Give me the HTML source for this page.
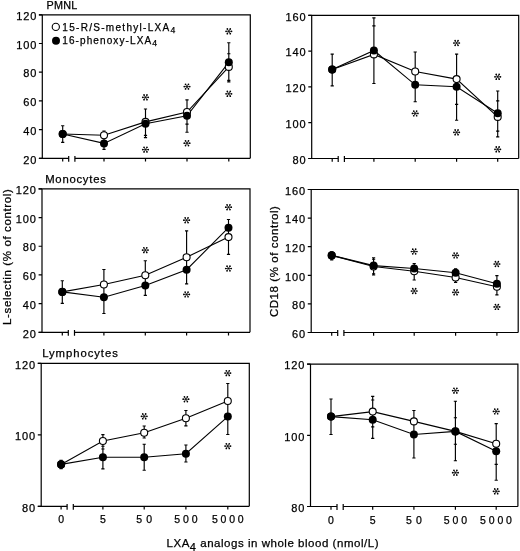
<!DOCTYPE html><html><head><meta charset="utf-8"><style>html,body{margin:0;padding:0;background:#fff;}svg{display:block;will-change:transform;}text{stroke:#000;stroke-width:0.25px;}</style></head><body>
<svg width="520" height="551" viewBox="0 0 520 551" font-family='"Liberation Sans", sans-serif' fill="#000">
<rect width="520" height="551" fill="#fff"/>
<path d="M38.9,14.8H250.3V158.3M42.3,14.8V158.3" fill="none" stroke="#000" stroke-width="1.2"/>
<path d="M38.9,158.3H68.7M74.9,158.3H250.3" fill="none" stroke="#000" stroke-width="1.2"/>
<path d="M68.7,155.9V161.70000000000002M74.9,155.9V161.70000000000002" fill="none" stroke="#000" stroke-width="1.2"/>
<path d="M62.7,158.3V161.5M104.0,158.3V161.5M145.5,158.3V161.5M187.0,158.3V161.5M228.8,158.3V161.5" stroke="#000" stroke-width="1.2"/>
<text x="37.20" y="163.50" text-anchor="end" font-size="11" letter-spacing="0.9">20</text>
<text x="37.20" y="134.80" text-anchor="end" font-size="11" letter-spacing="0.9">40</text>
<text x="37.20" y="106.10" text-anchor="end" font-size="11" letter-spacing="0.9">60</text>
<text x="37.20" y="77.40" text-anchor="end" font-size="11" letter-spacing="0.9">80</text>
<text x="37.20" y="48.70" text-anchor="end" font-size="11" letter-spacing="0.9">100</text>
<text x="37.20" y="20.00" text-anchor="end" font-size="11" letter-spacing="0.9">120</text>
<path d="M38.9,158.30H42.3M38.9,129.60H42.3M38.9,100.90H42.3M38.9,72.20H42.3M38.9,43.50H42.3M38.9,14.80H42.3" stroke="#000" stroke-width="1.2"/>
<polyline points="62.7,134.0 104.0,135.2 145.5,121.9 187.0,112.0 228.8,66.9" fill="none" stroke="#000" stroke-width="1.1"/>
<polyline points="62.7,134.0 104.0,143.4 145.5,123.8 187.0,115.8 228.8,62.3" fill="none" stroke="#000" stroke-width="1.1"/>
<path d="M62.7,125.7V142.3M61.1,125.7H64.3M61.1,142.3H64.3M104.0,131V149.3M102.4,131H105.6M102.4,149.3H105.6M145.5,109V137.6M143.9,109H147.1M143.9,137.6H147.1M143.9,135.4H147.1M187.0,99.9V132.2M185.4,99.9H188.6M185.4,132.2H188.6M185.4,124.1H188.6M228.8,42.7V81.9M227.20000000000002,42.7H230.4M227.20000000000002,81.9H230.4M227.20000000000002,53.7H230.4M227.20000000000002,80.3H230.4" stroke="#000" stroke-width="1.15"/>
<circle cx="62.7" cy="134.0" r="3.5" fill="#fff" stroke="#000" stroke-width="1.1"/>
<circle cx="104.0" cy="135.2" r="3.5" fill="#fff" stroke="#000" stroke-width="1.1"/>
<circle cx="145.5" cy="121.9" r="3.5" fill="#fff" stroke="#000" stroke-width="1.1"/>
<circle cx="187.0" cy="112.0" r="3.5" fill="#fff" stroke="#000" stroke-width="1.1"/>
<circle cx="228.8" cy="66.9" r="3.5" fill="#fff" stroke="#000" stroke-width="1.1"/>
<circle cx="62.7" cy="134.0" r="4.0" fill="#000"/>
<circle cx="104.0" cy="143.4" r="4.0" fill="#000"/>
<circle cx="145.5" cy="123.8" r="4.0" fill="#000"/>
<circle cx="187.0" cy="115.8" r="4.0" fill="#000"/>
<circle cx="228.8" cy="62.3" r="4.0" fill="#000"/>
<path d="M142.75,97.30L148.25,97.30M144.04,94.97L146.96,99.63M146.96,94.97L144.04,99.63" stroke="#000" stroke-width="0.75"/><circle cx="142.75" cy="97.30" r="0.85"/><circle cx="148.25" cy="97.30" r="0.85"/><circle cx="144.04" cy="94.97" r="0.85"/><circle cx="146.96" cy="99.63" r="0.85"/><circle cx="146.96" cy="94.97" r="0.85"/><circle cx="144.04" cy="99.63" r="0.85"/>
<path d="M142.75,149.60L148.25,149.60M144.04,147.27L146.96,151.93M146.96,147.27L144.04,151.93" stroke="#000" stroke-width="0.75"/><circle cx="142.75" cy="149.60" r="0.85"/><circle cx="148.25" cy="149.60" r="0.85"/><circle cx="144.04" cy="147.27" r="0.85"/><circle cx="146.96" cy="151.93" r="0.85"/><circle cx="146.96" cy="147.27" r="0.85"/><circle cx="144.04" cy="151.93" r="0.85"/>
<path d="M184.25,86.60L189.75,86.60M185.54,84.27L188.46,88.93M188.46,84.27L185.54,88.93" stroke="#000" stroke-width="0.75"/><circle cx="184.25" cy="86.60" r="0.85"/><circle cx="189.75" cy="86.60" r="0.85"/><circle cx="185.54" cy="84.27" r="0.85"/><circle cx="188.46" cy="88.93" r="0.85"/><circle cx="188.46" cy="84.27" r="0.85"/><circle cx="185.54" cy="88.93" r="0.85"/>
<path d="M184.25,143.20L189.75,143.20M185.54,140.87L188.46,145.53M188.46,140.87L185.54,145.53" stroke="#000" stroke-width="0.75"/><circle cx="184.25" cy="143.20" r="0.85"/><circle cx="189.75" cy="143.20" r="0.85"/><circle cx="185.54" cy="140.87" r="0.85"/><circle cx="188.46" cy="145.53" r="0.85"/><circle cx="188.46" cy="140.87" r="0.85"/><circle cx="185.54" cy="145.53" r="0.85"/>
<path d="M226.05,31.30L231.55,31.30M227.34,28.97L230.26,33.63M230.26,28.97L227.34,33.63" stroke="#000" stroke-width="0.75"/><circle cx="226.05" cy="31.30" r="0.85"/><circle cx="231.55" cy="31.30" r="0.85"/><circle cx="227.34" cy="28.97" r="0.85"/><circle cx="230.26" cy="33.63" r="0.85"/><circle cx="230.26" cy="28.97" r="0.85"/><circle cx="227.34" cy="33.63" r="0.85"/>
<path d="M226.05,93.80L231.55,93.80M227.34,91.47L230.26,96.13M230.26,91.47L227.34,96.13" stroke="#000" stroke-width="0.75"/><circle cx="226.05" cy="93.80" r="0.85"/><circle cx="231.55" cy="93.80" r="0.85"/><circle cx="227.34" cy="91.47" r="0.85"/><circle cx="230.26" cy="96.13" r="0.85"/><circle cx="230.26" cy="91.47" r="0.85"/><circle cx="227.34" cy="96.13" r="0.85"/>
<path d="M308.3,15.4H518.7V158.5M311.7,15.4V158.5" fill="none" stroke="#000" stroke-width="1.2"/>
<path d="M308.3,158.5H338.2M344.4,158.5H518.7" fill="none" stroke="#000" stroke-width="1.2"/>
<path d="M338.2,156.1V161.9M344.4,156.1V161.9" fill="none" stroke="#000" stroke-width="1.2"/>
<path d="M332.2,158.5V161.7M373.9,158.5V161.7M415.2,158.5V161.7M456.6,158.5V161.7M497.7,158.5V161.7" stroke="#000" stroke-width="1.2"/>
<text x="306.60" y="163.70" text-anchor="end" font-size="11" letter-spacing="0.9">80</text>
<text x="306.60" y="127.92" text-anchor="end" font-size="11" letter-spacing="0.9">100</text>
<text x="306.60" y="92.15" text-anchor="end" font-size="11" letter-spacing="0.9">120</text>
<text x="306.60" y="56.38" text-anchor="end" font-size="11" letter-spacing="0.9">140</text>
<text x="306.60" y="20.60" text-anchor="end" font-size="11" letter-spacing="0.9">160</text>
<path d="M308.3,158.50H311.7M308.3,122.72H311.7M308.3,86.95H311.7M308.3,51.17H311.7M308.3,15.40H311.7" stroke="#000" stroke-width="1.2"/>
<polyline points="332.2,69.6 373.9,54.4 415.2,71.5 456.6,79.1 497.7,116.9" fill="none" stroke="#000" stroke-width="1.1"/>
<polyline points="332.2,69.6 373.9,50.5 415.2,84.8 456.6,86.7 497.7,113.2" fill="none" stroke="#000" stroke-width="1.1"/>
<path d="M332.2,54.1V85.9M330.59999999999997,54.1H333.8M330.59999999999997,85.9H333.8M373.9,17.8V83.5M372.29999999999995,17.8H375.5M372.29999999999995,83.5H375.5M372.29999999999995,25.8H375.5M415.2,52V101.7M413.59999999999997,52H416.8M413.59999999999997,101.7H416.8M456.6,54.1V120.2M455.0,54.1H458.20000000000005M455.0,120.2H458.20000000000005M455.0,104.4H458.20000000000005M497.7,91V136.8M496.09999999999997,91H499.3M496.09999999999997,136.8H499.3M496.09999999999997,100.9H499.3M496.09999999999997,131.1H499.3" stroke="#000" stroke-width="1.15"/>
<circle cx="332.2" cy="69.6" r="3.5" fill="#fff" stroke="#000" stroke-width="1.1"/>
<circle cx="373.9" cy="54.4" r="3.5" fill="#fff" stroke="#000" stroke-width="1.1"/>
<circle cx="415.2" cy="71.5" r="3.5" fill="#fff" stroke="#000" stroke-width="1.1"/>
<circle cx="456.6" cy="79.1" r="3.5" fill="#fff" stroke="#000" stroke-width="1.1"/>
<circle cx="497.7" cy="116.9" r="3.5" fill="#fff" stroke="#000" stroke-width="1.1"/>
<circle cx="332.2" cy="69.6" r="4.0" fill="#000"/>
<circle cx="373.9" cy="50.5" r="4.0" fill="#000"/>
<circle cx="415.2" cy="84.8" r="4.0" fill="#000"/>
<circle cx="456.6" cy="86.7" r="4.0" fill="#000"/>
<circle cx="497.7" cy="113.2" r="4.0" fill="#000"/>
<path d="M412.45,113.40L417.95,113.40M413.74,111.07L416.66,115.73M416.66,111.07L413.74,115.73" stroke="#000" stroke-width="0.75"/><circle cx="412.45" cy="113.40" r="0.85"/><circle cx="417.95" cy="113.40" r="0.85"/><circle cx="413.74" cy="111.07" r="0.85"/><circle cx="416.66" cy="115.73" r="0.85"/><circle cx="416.66" cy="111.07" r="0.85"/><circle cx="413.74" cy="115.73" r="0.85"/>
<path d="M453.85,43.00L459.35,43.00M455.14,40.67L458.06,45.33M458.06,40.67L455.14,45.33" stroke="#000" stroke-width="0.75"/><circle cx="453.85" cy="43.00" r="0.85"/><circle cx="459.35" cy="43.00" r="0.85"/><circle cx="455.14" cy="40.67" r="0.85"/><circle cx="458.06" cy="45.33" r="0.85"/><circle cx="458.06" cy="40.67" r="0.85"/><circle cx="455.14" cy="45.33" r="0.85"/>
<path d="M453.85,132.30L459.35,132.30M455.14,129.97L458.06,134.63M458.06,129.97L455.14,134.63" stroke="#000" stroke-width="0.75"/><circle cx="453.85" cy="132.30" r="0.85"/><circle cx="459.35" cy="132.30" r="0.85"/><circle cx="455.14" cy="129.97" r="0.85"/><circle cx="458.06" cy="134.63" r="0.85"/><circle cx="458.06" cy="129.97" r="0.85"/><circle cx="455.14" cy="134.63" r="0.85"/>
<path d="M494.95,76.80L500.45,76.80M496.24,74.47L499.16,79.13M499.16,74.47L496.24,79.13" stroke="#000" stroke-width="0.75"/><circle cx="494.95" cy="76.80" r="0.85"/><circle cx="500.45" cy="76.80" r="0.85"/><circle cx="496.24" cy="74.47" r="0.85"/><circle cx="499.16" cy="79.13" r="0.85"/><circle cx="499.16" cy="74.47" r="0.85"/><circle cx="496.24" cy="79.13" r="0.85"/>
<path d="M494.95,149.30L500.45,149.30M496.24,146.97L499.16,151.63M499.16,146.97L496.24,151.63" stroke="#000" stroke-width="0.75"/><circle cx="494.95" cy="149.30" r="0.85"/><circle cx="500.45" cy="149.30" r="0.85"/><circle cx="496.24" cy="146.97" r="0.85"/><circle cx="499.16" cy="151.63" r="0.85"/><circle cx="499.16" cy="146.97" r="0.85"/><circle cx="496.24" cy="151.63" r="0.85"/>
<path d="M38.6,188.9H250.0V332.3M42.0,188.9V332.3" fill="none" stroke="#000" stroke-width="1.2"/>
<path d="M38.6,332.3H68.3M74.5,332.3H250.0" fill="none" stroke="#000" stroke-width="1.2"/>
<path d="M68.3,329.90000000000003V335.7M74.5,329.90000000000003V335.7" fill="none" stroke="#000" stroke-width="1.2"/>
<path d="M62.3,332.3V335.5M103.9,332.3V335.5M145.3,332.3V335.5M186.6,332.3V335.5M228.5,332.3V335.5" stroke="#000" stroke-width="1.2"/>
<text x="36.90" y="337.50" text-anchor="end" font-size="11" letter-spacing="0.9">20</text>
<text x="36.90" y="308.82" text-anchor="end" font-size="11" letter-spacing="0.9">40</text>
<text x="36.90" y="280.14" text-anchor="end" font-size="11" letter-spacing="0.9">60</text>
<text x="36.90" y="251.46" text-anchor="end" font-size="11" letter-spacing="0.9">80</text>
<text x="36.90" y="222.78" text-anchor="end" font-size="11" letter-spacing="0.9">100</text>
<text x="36.90" y="194.10" text-anchor="end" font-size="11" letter-spacing="0.9">120</text>
<path d="M38.6,332.30H42.0M38.6,303.62H42.0M38.6,274.94H42.0M38.6,246.26H42.0M38.6,217.58H42.0M38.6,188.90H42.0" stroke="#000" stroke-width="1.2"/>
<polyline points="62.3,291.9 103.9,284.5 145.3,275.2 186.6,257.2 228.5,237.1" fill="none" stroke="#000" stroke-width="1.1"/>
<polyline points="62.3,291.9 103.9,297.2 145.3,285.5 186.6,269.7 228.5,227.7" fill="none" stroke="#000" stroke-width="1.1"/>
<path d="M62.3,280.7V303.3M60.699999999999996,280.7H63.9M60.699999999999996,303.3H63.9M103.9,269.5V313.5M102.30000000000001,269.5H105.5M102.30000000000001,313.5H105.5M145.3,260.7V295.3M143.70000000000002,260.7H146.9M143.70000000000002,295.3H146.9M186.6,230.8V283.8M185.0,230.8H188.2M185.0,283.8H188.2M228.5,219.5V254.4M226.9,219.5H230.1M226.9,254.4H230.1" stroke="#000" stroke-width="1.15"/>
<circle cx="62.3" cy="291.9" r="3.5" fill="#fff" stroke="#000" stroke-width="1.1"/>
<circle cx="103.9" cy="284.5" r="3.5" fill="#fff" stroke="#000" stroke-width="1.1"/>
<circle cx="145.3" cy="275.2" r="3.5" fill="#fff" stroke="#000" stroke-width="1.1"/>
<circle cx="186.6" cy="257.2" r="3.5" fill="#fff" stroke="#000" stroke-width="1.1"/>
<circle cx="228.5" cy="237.1" r="3.5" fill="#fff" stroke="#000" stroke-width="1.1"/>
<circle cx="62.3" cy="291.9" r="4.0" fill="#000"/>
<circle cx="103.9" cy="297.2" r="4.0" fill="#000"/>
<circle cx="145.3" cy="285.5" r="4.0" fill="#000"/>
<circle cx="186.6" cy="269.7" r="4.0" fill="#000"/>
<circle cx="228.5" cy="227.7" r="4.0" fill="#000"/>
<path d="M142.55,250.10L148.05,250.10M143.84,247.77L146.76,252.43M146.76,247.77L143.84,252.43" stroke="#000" stroke-width="0.75"/><circle cx="142.55" cy="250.10" r="0.85"/><circle cx="148.05" cy="250.10" r="0.85"/><circle cx="143.84" cy="247.77" r="0.85"/><circle cx="146.76" cy="252.43" r="0.85"/><circle cx="146.76" cy="247.77" r="0.85"/><circle cx="143.84" cy="252.43" r="0.85"/>
<path d="M183.85,220.20L189.35,220.20M185.14,217.87L188.06,222.53M188.06,217.87L185.14,222.53" stroke="#000" stroke-width="0.75"/><circle cx="183.85" cy="220.20" r="0.85"/><circle cx="189.35" cy="220.20" r="0.85"/><circle cx="185.14" cy="217.87" r="0.85"/><circle cx="188.06" cy="222.53" r="0.85"/><circle cx="188.06" cy="217.87" r="0.85"/><circle cx="185.14" cy="222.53" r="0.85"/>
<path d="M183.85,294.40L189.35,294.40M185.14,292.07L188.06,296.73M188.06,292.07L185.14,296.73" stroke="#000" stroke-width="0.75"/><circle cx="183.85" cy="294.40" r="0.85"/><circle cx="189.35" cy="294.40" r="0.85"/><circle cx="185.14" cy="292.07" r="0.85"/><circle cx="188.06" cy="296.73" r="0.85"/><circle cx="188.06" cy="292.07" r="0.85"/><circle cx="185.14" cy="296.73" r="0.85"/>
<path d="M225.75,207.20L231.25,207.20M227.04,204.87L229.96,209.53M229.96,204.87L227.04,209.53" stroke="#000" stroke-width="0.75"/><circle cx="225.75" cy="207.20" r="0.85"/><circle cx="231.25" cy="207.20" r="0.85"/><circle cx="227.04" cy="204.87" r="0.85"/><circle cx="229.96" cy="209.53" r="0.85"/><circle cx="229.96" cy="204.87" r="0.85"/><circle cx="227.04" cy="209.53" r="0.85"/>
<path d="M225.75,268.50L231.25,268.50M227.04,266.17L229.96,270.83M229.96,266.17L227.04,270.83" stroke="#000" stroke-width="0.75"/><circle cx="225.75" cy="268.50" r="0.85"/><circle cx="231.25" cy="268.50" r="0.85"/><circle cx="227.04" cy="266.17" r="0.85"/><circle cx="229.96" cy="270.83" r="0.85"/><circle cx="229.96" cy="266.17" r="0.85"/><circle cx="227.04" cy="270.83" r="0.85"/>
<path d="M307.8,189.5H518.2V332.5M311.2,189.5V332.5" fill="none" stroke="#000" stroke-width="1.2"/>
<path d="M307.8,332.5H337.7M343.9,332.5H518.2" fill="none" stroke="#000" stroke-width="1.2"/>
<path d="M337.7,330.1V335.9M343.9,330.1V335.9" fill="none" stroke="#000" stroke-width="1.2"/>
<path d="M331.7,332.5V335.7M373.6,332.5V335.7M414.2,332.5V335.7M455.6,332.5V335.7M496.9,332.5V335.7" stroke="#000" stroke-width="1.2"/>
<text x="306.10" y="337.70" text-anchor="end" font-size="11" letter-spacing="0.9">60</text>
<text x="306.10" y="309.10" text-anchor="end" font-size="11" letter-spacing="0.9">80</text>
<text x="306.10" y="280.50" text-anchor="end" font-size="11" letter-spacing="0.9">100</text>
<text x="306.10" y="251.90" text-anchor="end" font-size="11" letter-spacing="0.9">120</text>
<text x="306.10" y="223.30" text-anchor="end" font-size="11" letter-spacing="0.9">140</text>
<text x="306.10" y="194.70" text-anchor="end" font-size="11" letter-spacing="0.9">160</text>
<path d="M307.8,332.50H311.2M307.8,303.90H311.2M307.8,275.30H311.2M307.8,246.70H311.2M307.8,218.10H311.2M307.8,189.50H311.2" stroke="#000" stroke-width="1.2"/>
<polyline points="331.7,255.4 373.6,266.5 414.2,271.2 455.6,277.5 496.9,286.7" fill="none" stroke="#000" stroke-width="1.1"/>
<polyline points="331.7,255.4 373.6,265.6 414.2,268.5 455.6,272.7 496.9,283.8" fill="none" stroke="#000" stroke-width="1.1"/>
<path d="M331.7,251.8V259.8M330.09999999999997,251.8H333.3M330.09999999999997,259.8H333.3M373.6,257.7V275M372.0,257.7H375.20000000000005M372.0,275H375.20000000000005M372.0,259.2H375.20000000000005M372.0,273.7H375.20000000000005M414.2,263.5V280M412.59999999999997,263.5H415.8M412.59999999999997,280H415.8M455.6,268.8V282.3M454.0,268.8H457.20000000000005M454.0,282.3H457.20000000000005M496.9,275.6V294.8M495.29999999999995,275.6H498.5M495.29999999999995,294.8H498.5" stroke="#000" stroke-width="1.15"/>
<circle cx="331.7" cy="255.4" r="3.5" fill="#fff" stroke="#000" stroke-width="1.1"/>
<circle cx="373.6" cy="266.5" r="3.5" fill="#fff" stroke="#000" stroke-width="1.1"/>
<circle cx="414.2" cy="271.2" r="3.5" fill="#fff" stroke="#000" stroke-width="1.1"/>
<circle cx="455.6" cy="277.5" r="3.5" fill="#fff" stroke="#000" stroke-width="1.1"/>
<circle cx="496.9" cy="286.7" r="3.5" fill="#fff" stroke="#000" stroke-width="1.1"/>
<circle cx="331.7" cy="255.4" r="4.0" fill="#000"/>
<circle cx="373.6" cy="265.6" r="4.0" fill="#000"/>
<circle cx="414.2" cy="268.5" r="4.0" fill="#000"/>
<circle cx="455.6" cy="272.7" r="4.0" fill="#000"/>
<circle cx="496.9" cy="283.8" r="4.0" fill="#000"/>
<path d="M411.45,251.50L416.95,251.50M412.74,249.17L415.66,253.83M415.66,249.17L412.74,253.83" stroke="#000" stroke-width="0.75"/><circle cx="411.45" cy="251.50" r="0.85"/><circle cx="416.95" cy="251.50" r="0.85"/><circle cx="412.74" cy="249.17" r="0.85"/><circle cx="415.66" cy="253.83" r="0.85"/><circle cx="415.66" cy="249.17" r="0.85"/><circle cx="412.74" cy="253.83" r="0.85"/>
<path d="M411.45,291.00L416.95,291.00M412.74,288.67L415.66,293.33M415.66,288.67L412.74,293.33" stroke="#000" stroke-width="0.75"/><circle cx="411.45" cy="291.00" r="0.85"/><circle cx="416.95" cy="291.00" r="0.85"/><circle cx="412.74" cy="288.67" r="0.85"/><circle cx="415.66" cy="293.33" r="0.85"/><circle cx="415.66" cy="288.67" r="0.85"/><circle cx="412.74" cy="293.33" r="0.85"/>
<path d="M452.85,255.40L458.35,255.40M454.14,253.07L457.06,257.73M457.06,253.07L454.14,257.73" stroke="#000" stroke-width="0.75"/><circle cx="452.85" cy="255.40" r="0.85"/><circle cx="458.35" cy="255.40" r="0.85"/><circle cx="454.14" cy="253.07" r="0.85"/><circle cx="457.06" cy="257.73" r="0.85"/><circle cx="457.06" cy="253.07" r="0.85"/><circle cx="454.14" cy="257.73" r="0.85"/>
<path d="M452.85,292.30L458.35,292.30M454.14,289.97L457.06,294.63M457.06,289.97L454.14,294.63" stroke="#000" stroke-width="0.75"/><circle cx="452.85" cy="292.30" r="0.85"/><circle cx="458.35" cy="292.30" r="0.85"/><circle cx="454.14" cy="289.97" r="0.85"/><circle cx="457.06" cy="294.63" r="0.85"/><circle cx="457.06" cy="289.97" r="0.85"/><circle cx="454.14" cy="294.63" r="0.85"/>
<path d="M494.15,264.00L499.65,264.00M495.44,261.67L498.36,266.33M498.36,261.67L495.44,266.33" stroke="#000" stroke-width="0.75"/><circle cx="494.15" cy="264.00" r="0.85"/><circle cx="499.65" cy="264.00" r="0.85"/><circle cx="495.44" cy="261.67" r="0.85"/><circle cx="498.36" cy="266.33" r="0.85"/><circle cx="498.36" cy="261.67" r="0.85"/><circle cx="495.44" cy="266.33" r="0.85"/>
<path d="M494.15,306.90L499.65,306.90M495.44,304.57L498.36,309.23M498.36,304.57L495.44,309.23" stroke="#000" stroke-width="0.75"/><circle cx="494.15" cy="306.90" r="0.85"/><circle cx="499.65" cy="306.90" r="0.85"/><circle cx="495.44" cy="304.57" r="0.85"/><circle cx="498.36" cy="309.23" r="0.85"/><circle cx="498.36" cy="304.57" r="0.85"/><circle cx="495.44" cy="309.23" r="0.85"/>
<path d="M37.800000000000004,363.3H249.3V506.3M41.2,363.3V506.3" fill="none" stroke="#000" stroke-width="1.2"/>
<path d="M37.800000000000004,506.3H67.1M73.3,506.3H249.3" fill="none" stroke="#000" stroke-width="1.2"/>
<path d="M67.1,503.90000000000003V509.7M73.3,503.90000000000003V509.7" fill="none" stroke="#000" stroke-width="1.2"/>
<path d="M61.1,506.3V509.5M102.9,506.3V509.5M144.2,506.3V509.5M185.9,506.3V509.5M227.8,506.3V509.5" stroke="#000" stroke-width="1.2"/>
<text x="36.10" y="511.50" text-anchor="end" font-size="11" letter-spacing="0.9">80</text>
<text x="36.10" y="440.00" text-anchor="end" font-size="11" letter-spacing="0.9">100</text>
<text x="36.10" y="368.50" text-anchor="end" font-size="11" letter-spacing="0.9">120</text>
<path d="M37.800000000000004,506.30H41.2M37.800000000000004,434.80H41.2M37.800000000000004,363.30H41.2" stroke="#000" stroke-width="1.2"/>
<polyline points="61.1,464.4 102.9,441 144.2,432.7 185.9,418.2 227.8,401" fill="none" stroke="#000" stroke-width="1.1"/>
<polyline points="61.1,464.4 102.9,457.3 144.2,457.3 185.9,453.7 227.8,416.6" fill="none" stroke="#000" stroke-width="1.1"/>
<path d="M61.1,460.2V468.6M59.5,460.2H62.7M59.5,468.6H62.7M102.9,434.6V468.8M101.30000000000001,434.6H104.5M101.30000000000001,468.8H104.5M101.30000000000001,446.2H104.5M101.30000000000001,449H104.5M144.2,426V438M142.6,426H145.79999999999998M142.6,438H145.79999999999998M144.2,444.2V470.2M142.6,444.2H145.79999999999998M142.6,470.2H145.79999999999998M185.9,410.5V425.8M184.3,410.5H187.5M184.3,425.8H187.5M185.9,445V462M184.3,445H187.5M184.3,462H187.5M227.8,383.5V434.5M226.20000000000002,383.5H229.4M226.20000000000002,434.5H229.4" stroke="#000" stroke-width="1.15"/>
<circle cx="61.1" cy="464.4" r="3.5" fill="#fff" stroke="#000" stroke-width="1.1"/>
<circle cx="102.9" cy="441" r="3.5" fill="#fff" stroke="#000" stroke-width="1.1"/>
<circle cx="144.2" cy="432.7" r="3.5" fill="#fff" stroke="#000" stroke-width="1.1"/>
<circle cx="185.9" cy="418.2" r="3.5" fill="#fff" stroke="#000" stroke-width="1.1"/>
<circle cx="227.8" cy="401" r="3.5" fill="#fff" stroke="#000" stroke-width="1.1"/>
<circle cx="61.1" cy="464.4" r="4.0" fill="#000"/>
<circle cx="102.9" cy="457.3" r="4.0" fill="#000"/>
<circle cx="144.2" cy="457.3" r="4.0" fill="#000"/>
<circle cx="185.9" cy="453.7" r="4.0" fill="#000"/>
<circle cx="227.8" cy="416.6" r="4.0" fill="#000"/>
<path d="M141.45,416.30L146.95,416.30M142.74,413.97L145.66,418.63M145.66,413.97L142.74,418.63" stroke="#000" stroke-width="0.75"/><circle cx="141.45" cy="416.30" r="0.85"/><circle cx="146.95" cy="416.30" r="0.85"/><circle cx="142.74" cy="413.97" r="0.85"/><circle cx="145.66" cy="418.63" r="0.85"/><circle cx="145.66" cy="413.97" r="0.85"/><circle cx="142.74" cy="418.63" r="0.85"/>
<path d="M183.15,399.20L188.65,399.20M184.44,396.87L187.36,401.53M187.36,396.87L184.44,401.53" stroke="#000" stroke-width="0.75"/><circle cx="183.15" cy="399.20" r="0.85"/><circle cx="188.65" cy="399.20" r="0.85"/><circle cx="184.44" cy="396.87" r="0.85"/><circle cx="187.36" cy="401.53" r="0.85"/><circle cx="187.36" cy="396.87" r="0.85"/><circle cx="184.44" cy="401.53" r="0.85"/>
<path d="M225.05,373.10L230.55,373.10M226.34,370.77L229.26,375.43M229.26,370.77L226.34,375.43" stroke="#000" stroke-width="0.75"/><circle cx="225.05" cy="373.10" r="0.85"/><circle cx="230.55" cy="373.10" r="0.85"/><circle cx="226.34" cy="370.77" r="0.85"/><circle cx="229.26" cy="375.43" r="0.85"/><circle cx="229.26" cy="370.77" r="0.85"/><circle cx="226.34" cy="375.43" r="0.85"/>
<path d="M225.05,446.10L230.55,446.10M226.34,443.77L229.26,448.43M229.26,443.77L226.34,448.43" stroke="#000" stroke-width="0.75"/><circle cx="225.05" cy="446.10" r="0.85"/><circle cx="230.55" cy="446.10" r="0.85"/><circle cx="226.34" cy="443.77" r="0.85"/><circle cx="229.26" cy="448.43" r="0.85"/><circle cx="229.26" cy="443.77" r="0.85"/><circle cx="226.34" cy="448.43" r="0.85"/>
<path d="M307.1,364.2H517.9V506.5M310.5,364.2V506.5" fill="none" stroke="#000" stroke-width="1.2"/>
<path d="M307.1,506.5H337.0M343.2,506.5H517.9" fill="none" stroke="#000" stroke-width="1.2"/>
<path d="M337.0,504.1V509.9M343.2,504.1V509.9" fill="none" stroke="#000" stroke-width="1.2"/>
<path d="M331.0,506.5V509.7M372.7,506.5V509.7M413.9,506.5V509.7M455.4,506.5V509.7M496.2,506.5V509.7" stroke="#000" stroke-width="1.2"/>
<text x="305.40" y="511.70" text-anchor="end" font-size="11" letter-spacing="0.9">80</text>
<text x="305.40" y="440.55" text-anchor="end" font-size="11" letter-spacing="0.9">100</text>
<text x="305.40" y="369.40" text-anchor="end" font-size="11" letter-spacing="0.9">120</text>
<path d="M307.1,506.50H310.5M307.1,435.35H310.5M307.1,364.20H310.5" stroke="#000" stroke-width="1.2"/>
<polyline points="331.0,416.6 372.7,411.6 413.9,421.4 455.4,431.4 496.2,443.7" fill="none" stroke="#000" stroke-width="1.1"/>
<polyline points="331.0,416.6 372.7,419.7 413.9,434.5 455.4,431.4 496.2,451.2" fill="none" stroke="#000" stroke-width="1.1"/>
<path d="M331.0,399V434.5M329.4,399H332.6M329.4,434.5H332.6M372.7,396.3V438.4M371.09999999999997,396.3H374.3M371.09999999999997,438.4H374.3M371.09999999999997,400H374.3M371.09999999999997,426.8H374.3M413.9,410.5V458M412.29999999999995,410.5H415.5M412.29999999999995,458H415.5M455.4,401.2V460.7M453.79999999999995,401.2H457.0M453.79999999999995,460.7H457.0M453.79999999999995,417.7H457.0M453.79999999999995,444.2H457.0M496.2,423.6V480.2M494.59999999999997,423.6H497.8M494.59999999999997,480.2H497.8M494.59999999999997,464.4H497.8" stroke="#000" stroke-width="1.15"/>
<circle cx="331.0" cy="416.6" r="3.5" fill="#fff" stroke="#000" stroke-width="1.1"/>
<circle cx="372.7" cy="411.6" r="3.5" fill="#fff" stroke="#000" stroke-width="1.1"/>
<circle cx="413.9" cy="421.4" r="3.5" fill="#fff" stroke="#000" stroke-width="1.1"/>
<circle cx="455.4" cy="431.4" r="3.5" fill="#fff" stroke="#000" stroke-width="1.1"/>
<circle cx="496.2" cy="443.7" r="3.5" fill="#fff" stroke="#000" stroke-width="1.1"/>
<circle cx="331.0" cy="416.6" r="4.0" fill="#000"/>
<circle cx="372.7" cy="419.7" r="4.0" fill="#000"/>
<circle cx="413.9" cy="434.5" r="4.0" fill="#000"/>
<circle cx="455.4" cy="431.4" r="4.0" fill="#000"/>
<circle cx="496.2" cy="451.2" r="4.0" fill="#000"/>
<path d="M452.65,390.60L458.15,390.60M453.94,388.27L456.86,392.93M456.86,388.27L453.94,392.93" stroke="#000" stroke-width="0.75"/><circle cx="452.65" cy="390.60" r="0.85"/><circle cx="458.15" cy="390.60" r="0.85"/><circle cx="453.94" cy="388.27" r="0.85"/><circle cx="456.86" cy="392.93" r="0.85"/><circle cx="456.86" cy="388.27" r="0.85"/><circle cx="453.94" cy="392.93" r="0.85"/>
<path d="M452.65,472.70L458.15,472.70M453.94,470.37L456.86,475.03M456.86,470.37L453.94,475.03" stroke="#000" stroke-width="0.75"/><circle cx="452.65" cy="472.70" r="0.85"/><circle cx="458.15" cy="472.70" r="0.85"/><circle cx="453.94" cy="470.37" r="0.85"/><circle cx="456.86" cy="475.03" r="0.85"/><circle cx="456.86" cy="470.37" r="0.85"/><circle cx="453.94" cy="475.03" r="0.85"/>
<path d="M493.45,411.40L498.95,411.40M494.74,409.07L497.66,413.73M497.66,409.07L494.74,413.73" stroke="#000" stroke-width="0.75"/><circle cx="493.45" cy="411.40" r="0.85"/><circle cx="498.95" cy="411.40" r="0.85"/><circle cx="494.74" cy="409.07" r="0.85"/><circle cx="497.66" cy="413.73" r="0.85"/><circle cx="497.66" cy="409.07" r="0.85"/><circle cx="494.74" cy="413.73" r="0.85"/>
<path d="M493.45,491.30L498.95,491.30M494.74,488.97L497.66,493.63M497.66,488.97L494.74,493.63" stroke="#000" stroke-width="0.75"/><circle cx="493.45" cy="491.30" r="0.85"/><circle cx="498.95" cy="491.30" r="0.85"/><circle cx="494.74" cy="488.97" r="0.85"/><circle cx="497.66" cy="493.63" r="0.85"/><circle cx="497.66" cy="488.97" r="0.85"/><circle cx="494.74" cy="493.63" r="0.85"/>
<circle cx="55.8" cy="26.9" r="3.6" fill="#fff" stroke="#000" stroke-width="1.1"/>
<circle cx="56" cy="40.8" r="4" fill="#000"/>
<text x="62.3" y="30.6" font-size="10" letter-spacing="1.3">15-R/S-methyl-LXA<tspan font-size="8.6" dy="2.3">4</tspan></text>
<text x="62.3" y="43.8" font-size="10" letter-spacing="1.1">16-phenoxy-LXA<tspan font-size="8.6" dy="2.6">4</tspan></text>
<text x="46.6" y="9.4" font-size="10.8" letter-spacing="0.2">PMNL</text>
<text x="45.2" y="183" font-size="11.3" letter-spacing="0.75">Monocytes</text>
<text x="42.2" y="357.4" font-size="11.3" letter-spacing="0.95">Lymphocytes</text>
<text transform="translate(10.9,256.8) rotate(-90)" text-anchor="middle" font-size="11.5" letter-spacing="0.62">L-selectin (% of control)</text>
<text transform="translate(278.4,261.3) rotate(-90)" text-anchor="middle" font-size="11.5" letter-spacing="0.56">CD18 (% of control)</text>
<text x="61.10" y="523.3" text-anchor="middle" font-size="10.5" letter-spacing="0">0</text>
<text x="102.90" y="523.3" text-anchor="middle" font-size="10.5" letter-spacing="0">5</text>
<text x="146.20" y="523.3" text-anchor="middle" font-size="10.5" letter-spacing="4">50</text>
<text x="187.40" y="523.3" text-anchor="middle" font-size="10.5" letter-spacing="3">500</text>
<text x="229.20" y="523.3" text-anchor="middle" font-size="10.5" letter-spacing="2.8">5000</text>
<text x="331.00" y="523.8" text-anchor="middle" font-size="10.5" letter-spacing="0">0</text>
<text x="372.70" y="523.8" text-anchor="middle" font-size="10.5" letter-spacing="0">5</text>
<text x="415.90" y="523.8" text-anchor="middle" font-size="10.5" letter-spacing="4">50</text>
<text x="456.90" y="523.8" text-anchor="middle" font-size="10.5" letter-spacing="3">500</text>
<text x="497.40" y="523.8" text-anchor="middle" font-size="10.5" letter-spacing="2.8">5000</text>
<text x="166.5" y="547.3" font-size="11.5" letter-spacing="0.53">LXA<tspan font-size="11" dy="3.8">4</tspan><tspan dy="-3.8"> analogs in whole blood (nmol/L)</tspan></text>
</svg></body></html>
